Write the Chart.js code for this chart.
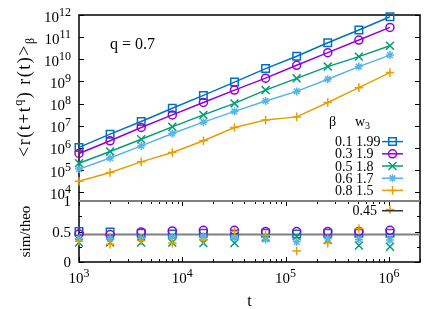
<!DOCTYPE html>
<html>
<head>
<meta charset="utf-8">
<script src="https://cdn.jsdelivr.net/npm/chart.js@4.4.1/dist/chart.umd.min.js"></script>
<style>
  html, body { margin: 0; padding: 0; background: #fff; }
</style>
</head>
<body>
<canvas id="chart" width="442" height="309"></canvas>
<script>
// time lags t
const times = [1000, 2000, 4000, 8000, 16000, 32000, 64000, 128000, 256000, 512000, 1024000];

// legend columns
const betas = ['0.1', '0.3', '0.5', '0.6', '0.8'];
const w3 = ['1.99', '1.9', '1.8', '1.7', '1.5'];

// <r(t+t^q) r(t)>_beta
const corrB01 = [1.05e6, 4.17e6, 1.55e7, 6.17e7, 2.34e8, 9.33e8, 3.80e9, 1.38e10, 5.62e10, 2.09e11, 8.32e11];
const corrB03 = [5.62e5, 2.09e6, 8.32e6, 3.09e7, 1.12e8, 4.07e8, 1.41e9, 5.37e9, 2.00e10, 7.41e10, 2.75e11];
const corrB05 = [2.04e5, 6.92e5, 2.45e6, 8.91e6, 3.09e7, 1.02e8, 4.07e8, 1.38e9, 4.68e9, 1.32e10, 4.07e10];
const corrB06 = [1.10e5, 3.47e5, 1.23e6, 4.47e6, 1.45e7, 4.47e7, 1.32e8, 3.55e8, 1.26e9, 4.68e9, 1.55e10];
const corrB08 = [3.09e4, 7.76e4, 2.34e5, 6.17e5, 2.09e6, 8.32e6, 1.82e7, 2.51e7, 1.12e8, 5.25e8, 2.51e9];

// sim/theo ratios
const ratioB01 = [0.50, 0.49, 0.47, 0.46, 0.47, 0.46, 0.47, 0.46, 0.47, 0.47, 0.47];
const ratioB03 = [0.46, 0.45, 0.49, 0.51, 0.52, 0.52, 0.50, 0.50, 0.50, 0.50, 0.52];
const ratioB05 = [0.32, 0.32, 0.32, 0.32, 0.31, 0.31, 0.40, 0.42, 0.36, 0.27, 0.25];
const ratioB06 = [0.38, 0.38, 0.39, 0.41, 0.42, 0.40, 0.37, 0.33, 0.38, 0.37, 0.36];
const ratioB08 = [0.34, 0.29, 0.35, 0.31, 0.36, 0.50, 0.44, 0.18, 0.31, 0.55, 0.86];

const theoLevel = 0.45;
const xRange = [1000, 2e6];
const yRange = [4000, 1e12];
const ratioRange = [0, 1];

const xTickExp = [3, 4, 5, 6];
const yTickExp = [4, 5, 6, 7, 8, 9, 10, 11, 12];
const ratioTicks = [0, 0.5, 1];
const ratioMinor = [0.25, 0.75];

const corr = [corrB01, corrB03, corrB05, corrB06, corrB08];
const ratio = [ratioB01, ratioB03, ratioB05, ratioB06, ratioB08];
const colors = ['#0072bd', '#9400d3', '#009e73', '#56b4e9', '#e69f00'];
const marks = [
  { style: 'rect', r: 5.3 },
  { style: 'circle', r: 4 },
  { style: 'crossRot', r: 5.6 },
  { style: 'star', r: 4 },
  { style: 'cross', r: 4.3 }
];
const FONT = '"Liberation Serif", "Times New Roman", serif';

const pts = (ys) => times.map((t, i) => ({ x: t, y: ys[i] }));

const datasets = [];
corr.forEach((ys, i) => {
  datasets.push({
    data: pts(ys), yAxisID: 'y', order: 10 - i,
    borderColor: colors[i], borderWidth: 1.5, backgroundColor: 'rgba(0,0,0,0)',
    pointStyle: marks[i].style, pointRadius: marks[i].r, pointBorderWidth: 1.5,
    pointBorderColor: colors[i], pointBackgroundColor: 'rgba(0,0,0,0)',
    tension: 0, clip: false
  });
});
ratio.forEach((ys, i) => {
  datasets.push({
    data: pts(ys), yAxisID: 'yr', order: 5 - i, showLine: false,
    borderColor: colors[i], backgroundColor: 'rgba(0,0,0,0)',
    pointStyle: marks[i].style, pointRadius: marks[i].r, pointBorderWidth: 1.5,
    pointBorderColor: colors[i], pointBackgroundColor: 'rgba(0,0,0,0)',
    clip: false
  });
});
datasets.push({
  data: [{ x: xRange[0], y: theoLevel }, { x: xRange[1], y: theoLevel }],
  yAxisID: 'yr', order: 20, borderColor: '#7f7f7f', borderWidth: 2,
  pointRadius: 0, tension: 0
});

function marker(ctx, style, x, y, r) {
  ctx.beginPath();
  const d = r * Math.SQRT1_2;
  if (style === 'rect') { ctx.rect(x - d, y - d, 2 * d, 2 * d); }
  else if (style === 'circle') { ctx.arc(x, y, r, 0, Math.PI * 2); }
  else {
    if (style === 'cross' || style === 'star') {
      ctx.moveTo(x - r, y); ctx.lineTo(x + r, y); ctx.moveTo(x, y - r); ctx.lineTo(x, y + r);
    }
    if (style === 'crossRot' || style === 'star') {
      ctx.moveTo(x - d, y - d); ctx.lineTo(x + d, y + d); ctx.moveTo(x - d, y + d); ctx.lineTo(x + d, y - d);
    }
  }
  ctx.stroke();
}

function pow10(ctx, x, y, exp, align) {
  ctx.font = '15px ' + FONT;
  const wb = ctx.measureText('10').width;
  ctx.font = '12px ' + FONT;
  const we = ctx.measureText(String(exp)).width;
  let x0 = x;
  if (align === 'right') x0 = x - wb - we;
  if (align === 'center') x0 = x - (wb + we) / 2;
  ctx.textAlign = 'left';
  ctx.font = '15px ' + FONT;
  ctx.fillText('10', x0, y);
  ctx.font = '12px ' + FONT;
  ctx.fillText(String(exp), x0 + wb, y - 6);
}

const framePlugin = {
  id: 'frame',
  beforeDatasetsDraw(chart) {
    const ctx = chart.ctx;
    const xs = chart.scales.x, ys = chart.scales.y, yr = chart.scales.yr;
    const L = chart.chartArea.left, R = chart.chartArea.right;
    ctx.save();
    ctx.strokeStyle = '#000';
    ctx.lineWidth = 1;
    ctx.beginPath();
    // y ticks, main panel
    yTickExp.forEach(e => {
      const py = Math.round(ys.getPixelForValue(Math.pow(10, e))) + 0.5;
      if (py > ys.bottom) return;
      ctx.moveTo(L, py); ctx.lineTo(L + 5, py);
      ctx.moveTo(R, py); ctx.lineTo(R - 5, py);
    });
    // y ticks, ratio panel
    ratioTicks.concat(ratioMinor).forEach(v => {
      const py = Math.round(yr.getPixelForValue(v)) + 0.5;
      const len = ratioMinor.includes(v) ? 3 : 5;
      ctx.moveTo(L, py); ctx.lineTo(L + len, py);
      ctx.moveTo(R, py); ctx.lineTo(R - len, py);
    });
    // x ticks on ratio panel (bottom and top edge)
    for (let e = 3; e <= 6; e++) {
      for (let m = 1; m <= 9; m++) {
        const v = m * Math.pow(10, e);
        if (v < xRange[0] || v > xRange[1]) continue;
        const px = Math.round(xs.getPixelForValue(v)) + 0.5;
        const len = m === 1 ? 5 : 3;
        ctx.moveTo(px, yr.bottom); ctx.lineTo(px, yr.bottom - len);
        ctx.moveTo(px, yr.top); ctx.lineTo(px, yr.top + len);
      }
    }
    ctx.stroke();
    // borders
    ctx.lineWidth = 1.5;
    ctx.strokeRect(L, ys.top, R - L, yr.bottom - ys.top);
    ctx.strokeStyle = '#7f7f7f';
    ctx.lineWidth = 2;
    ctx.beginPath();
    ctx.moveTo(L, yr.top); ctx.lineTo(R, yr.top);
    ctx.stroke();
    ctx.restore();
  },
  afterDraw(chart) {
    const ctx = chart.ctx;
    const xs = chart.scales.x, ys = chart.scales.y, yr = chart.scales.yr;
    const L = chart.chartArea.left, R = chart.chartArea.right;
    ctx.save();
    ctx.fillStyle = '#000';
    ctx.textBaseline = 'alphabetic';
    yTickExp.forEach(e => {
      const py = ys.getPixelForValue(Math.pow(10, e));
      pow10(ctx, L - 8, py + 6.5, e, 'right');
    });
    xTickExp.forEach(e => {
      const px = xs.getPixelForValue(Math.pow(10, e));
      pow10(ctx, px, yr.bottom + 21, e, 'center');
    });
    ctx.font = '15px ' + FONT;
    ctx.textAlign = 'right';
    ratioTicks.forEach(v => {
      ctx.fillText(String(v), L - 8, yr.getPixelForValue(v) + 5);
    });
    // axis titles
    ctx.font = '16px ' + FONT;
    ctx.textAlign = 'center';
    ctx.fillText('t', (L + R) / 2, 306);
    ctx.textAlign = 'left';
    ctx.fillText('q = 0.7', 110, 49);
    // rotated y titles
    ctx.save();
    ctx.translate(30, 157);
    ctx.rotate(-Math.PI / 2);
    ctx.letterSpacing = '1.5px';
    let x = 0;
    const seg = (txt, size, dy) => {
      ctx.font = size + 'px ' + FONT;
      ctx.fillText(txt, x, dy);
      x += ctx.measureText(txt).width;
    };
    seg('<r(t+t', 18, 0); seg('q', 12, -8); seg(') r(t)>', 18, 0); seg('β', 12, 4);
    ctx.letterSpacing = '0px';
    ctx.restore();
    ctx.save();
    ctx.translate(30, (yr.top + yr.bottom) / 2);
    ctx.rotate(-Math.PI / 2);
    ctx.textAlign = 'center';
    ctx.font = '15px ' + FONT;
    ctx.fillText('sim/theo', 0, 0);
    ctx.restore();
    // legend
    ctx.textAlign = 'left';
    ctx.font = '14px ' + FONT;
    ctx.fillText('β', 329, 126);
    ctx.fillText('w', 355, 126);
    const ww = ctx.measureText('w').width;
    ctx.font = '10px ' + FONT;
    ctx.fillText('3', 355 + ww, 129);
    betas.forEach((b, i) => {
      const cy = 141.6 + i * 12.2;
      ctx.font = '14px ' + FONT;
      ctx.fillStyle = '#000';
      ctx.fillText(b + ' ' + w3[i], 335, cy + 4.5);
      ctx.strokeStyle = colors[i];
      ctx.lineWidth = 1.5;
      ctx.beginPath(); ctx.moveTo(382, cy); ctx.lineTo(403, cy); ctx.stroke();
      marker(ctx, marks[i].style, 392.5, cy, marks[i].r);
    });
    ctx.fillStyle = '#000';
    ctx.textAlign = 'right';
    ctx.font = '14px ' + FONT;
    const ly = yr.getPixelForValue(0.84);
    ctx.fillText(String(theoLevel), 377, ly + 4.5);
    ctx.strokeStyle = '#333';
    ctx.lineWidth = 1.5;
    ctx.beginPath(); ctx.moveTo(382, ly); ctx.lineTo(403, ly); ctx.stroke();
    ctx.restore();
  }
};

new Chart(document.getElementById('chart'), {
  type: 'line',
  data: { datasets: datasets },
  options: {
    responsive: false,
    animation: false,
    layout: { padding: { left: 79, top: 15, right: 22, bottom: 47 } },
    plugins: { legend: { display: false }, tooltip: { enabled: false } },
    scales: {
      x: { type: 'logarithmic', min: xRange[0], max: xRange[1], display: false },
      yr: { type: 'linear', position: 'left', stack: 'panels', stackWeight: 61,
            min: ratioRange[0], max: ratioRange[1], display: false },
      y: { type: 'logarithmic', position: 'left', stack: 'panels', stackWeight: 186,
           min: yRange[0], max: yRange[1], display: false }
    }
  },
  plugins: [framePlugin]
});
</script>
</body>
</html>
